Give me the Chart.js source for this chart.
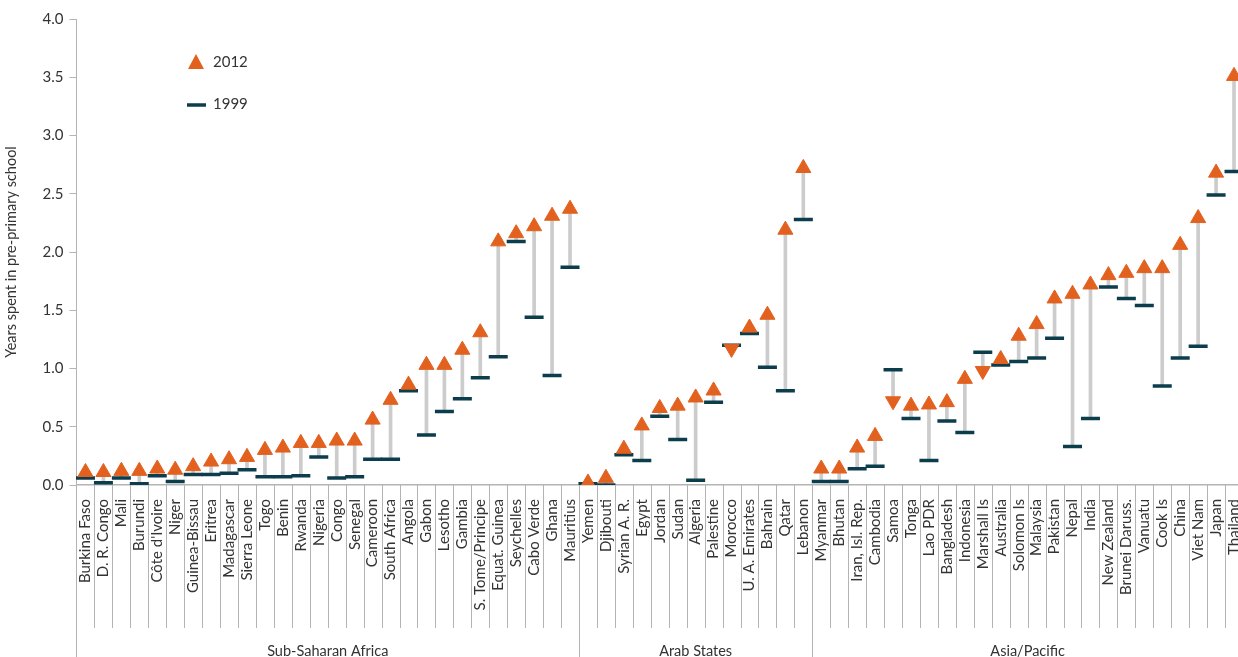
<!DOCTYPE html>
<html>
<head>
<meta charset="utf-8">
<script src="https://cdn.jsdelivr.net/npm/chart.js@4.4.1/dist/chart.umd.min.js"></script>
<style>
  html, body { margin: 0; padding: 0; background: #fff; overflow: hidden; }
  #wrap { position: relative; width: 1256px; height: 657px; }
</style>
</head>
<body>
<div id="wrap"><canvas id="chart" width="1256" height="657"></canvas></div>
<script>
/* =================================================
  Data
==================================================== */

const countries = [
  "Burkina Faso", "D. R. Congo", "Mali", "Burundi", "Côte d'Ivoire", "Niger", "Guinea-Bissau",
  "Eritrea", "Madagascar", "Sierra Leone", "Togo", "Benin", "Rwanda", "Nigeria", "Congo",
  "Senegal", "Cameroon", "South Africa", "Angola", "Gabon", "Lesotho", "Gambia",
  "S. Tome/Principe", "Equat. Guinea", "Seychelles", "Cabo Verde", "Ghana", "Mauritius",
  "Yemen", "Djibouti", "Syrian A. R.", "Egypt", "Jordan", "Sudan", "Algeria", "Palestine",
  "Morocco", "U. A. Emirates", "Bahrain", "Qatar", "Lebanon",
  "Myanmar", "Bhutan", "Iran, Isl. Rep.", "Cambodia", "Samoa", "Tonga", "Lao PDR",
  "Bangladesh", "Indonesia", "Marshall Is", "Australia", "Solomon Is", "Malaysia",
  "Pakistan", "Nepal", "India", "New Zealand", "Brunei Daruss.", "Vanuatu", "Cook Is",
  "China", "Viet Nam", "Japan", "Thailand"
];

const years1999 = [
  0.06, 0.02, 0.06, 0.01, 0.08, 0.03, 0.09, 0.09, 0.10, 0.13, 0.07, 0.07, 0.08, 0.24,
  0.06, 0.07, 0.22, 0.22, 0.81, 0.43, 0.63, 0.74, 0.92, 1.10, 2.09, 1.44, 0.94, 1.87,
  0.01, 0.00, 0.26, 0.21, 0.59, 0.39, 0.04, 0.71, 1.20, 1.30, 1.01, 0.81, 2.28,
  0.03, 0.03, 0.14, 0.16, 0.99, 0.57, 0.21, 0.55, 0.45, 1.14, 1.03, 1.06, 1.09,
  1.26, 0.33, 0.57, 1.70, 1.60, 1.54, 0.85, 1.09, 1.19, 2.49, 2.69
];

const years2012 = [
  0.11, 0.11, 0.12, 0.12, 0.14, 0.13, 0.16, 0.20, 0.22, 0.24, 0.30, 0.32, 0.36, 0.36,
  0.38, 0.38, 0.56, 0.73, 0.86, 1.03, 1.03, 1.16, 1.31, 2.09, 2.16, 2.22, 2.31, 2.37,
  0.02, 0.06, 0.31, 0.51, 0.66, 0.68, 0.75, 0.81, 1.17, 1.35, 1.46, 2.19, 2.72,
  0.14, 0.14, 0.32, 0.42, 0.72, 0.68, 0.69, 0.71, 0.91, 0.98, 1.08, 1.28, 1.38,
  1.60, 1.64, 1.72, 1.80, 1.82, 1.86, 1.86, 2.06, 2.29, 2.68, 3.51
];

const regionNames = ["Sub-Saharan Africa", "Arab States", "Asia/Pacific"];
const regionSizes = [28, 13, 24];

const yTicks = [0, 0.5, 1, 1.5, 2, 2.5, 3, 3.5, 4];

/* =================================================
  Styles
==================================================== */

const ORANGE = '#E2611F';
const TEAL = '#0B3D4D';
const LINK = '#CCCCCC';
const AXIS = '#B4B4B4';
const TEXT = '#333333';
const FONT = "Lato, 'DejaVu Sans Condensed', sans-serif";

/* =================================================
  Separators, region labels and legend
==================================================== */

const decorations = {
  id: 'decorations',
  afterDraw(chart) {
    const ctx = chart.ctx;
    const x = chart.scales.x;
    const area = chart.chartArea;
    const half = (x.getPixelForValue(1) - x.getPixelForValue(0)) / 2;

    let starts = [0];
    regionSizes.forEach((n, i) => starts.push(starts[i] + n));

    ctx.save();
    ctx.strokeStyle = AXIS;
    ctx.lineWidth = 1;
    for (let i = 0; i <= countries.length; i++) {
      const px = Math.round(x.getPixelForValue(i) - half) + 0.5;
      const bottom = starts.includes(i) ? chart.height : 628;
      ctx.beginPath();
      ctx.moveTo(px, area.bottom);
      ctx.lineTo(px, bottom);
      ctx.stroke();
    }

    ctx.fillStyle = TEXT;
    ctx.font = '14.5px ' + FONT;
    ctx.textAlign = 'center';
    ctx.textBaseline = 'middle';
    regionNames.forEach((name, i) => {
      const left = x.getPixelForValue(starts[i]) - half;
      const right = x.getPixelForValue(starts[i + 1] - 1) + half;
      ctx.fillText(name, (left + right) / 2, 651);
    });

    // legend
    ctx.fillStyle = ORANGE;
    ctx.beginPath();
    ctx.moveTo(196, 54);
    ctx.lineTo(204, 69);
    ctx.lineTo(188, 69);
    ctx.closePath();
    ctx.fill();

    ctx.strokeStyle = TEAL;
    ctx.lineWidth = 3.5;
    ctx.beginPath();
    ctx.moveTo(187, 105);
    ctx.lineTo(206, 105);
    ctx.stroke();

    ctx.fillStyle = TEXT;
    ctx.font = '15px ' + FONT;
    ctx.textAlign = 'left';
    ctx.fillText('2012', 213, 62);
    ctx.fillText('1999', 213, 104);
    ctx.restore();
  }
};

/* =================================================
  Chart
==================================================== */

const chart = document.getElementById('chart');

const chartData = {
  labels: countries,
  datasets: [{
    type: 'bar',
    label: 'change',
    data: countries.map((c, i) => [years1999[i], years2012[i]]),
    backgroundColor: LINK,
    barThickness: 3,
    order: 3
  }, {
    type: 'line',
    label: '1999',
    data: years1999,
    showLine: false,
    pointStyle: 'line',
    pointRadius: 9.5,
    pointBorderWidth: 3.5,
    pointBorderColor: TEAL,
    order: 2
  }, {
    type: 'line',
    label: '2012',
    data: years2012,
    showLine: false,
    pointStyle: 'triangle',
    pointRadius: 8.7,
    pointRotation: ctx => years2012[ctx.dataIndex] < years1999[ctx.dataIndex] ? 180 : 0,
    pointBackgroundColor: ORANGE,
    pointBorderColor: ORANGE,
    pointBorderWidth: 1,
    order: 1
  }]
};

const chartOptions = {
  responsive: false,
  animation: false,
  layout: {
    padding: { top: 19, right: 1, left: 0, bottom: 0 }
  },
  scales: {
    x: {
      offset: true,
      grid: { display: false, drawTicks: false },
      border: { color: AXIS, width: 1.5 },
      ticks: {
        autoSkip: false,
        minRotation: 90,
        maxRotation: 90,
        padding: 14,
        color: TEXT,
        font: { family: FONT, size: 15 }
      },
      afterFit: scale => {
        scale.height = 172;
        scale.paddingLeft = 0;
        scale.paddingRight = 0;
      }
    },
    y: {
      min: 0,
      max: 4,
      afterBuildTicks: scale => { scale.ticks = yTicks.map(v => ({ value: v })); },
      grid: { drawOnChartArea: false, tickLength: 7, color: AXIS },
      border: { color: AXIS },
      ticks: {
        color: TEXT,
        padding: 6,
        font: { family: FONT, size: 15 },
        callback: v => v.toFixed(1)
      },
      title: {
        display: true,
        text: 'Years spent in pre-primary school',
        color: TEXT,
        font: { family: FONT, size: 14.5 },
        padding: { top: 3, bottom: 2 }
      },
      afterFit: scale => { scale.width = 76.5; }
    }
  },
  plugins: {
    legend: { display: false },
    tooltip: { enabled: false }
  }
};

new Chart(chart, {
  type: 'bar',
  data: chartData,
  options: chartOptions,
  plugins: [decorations]
});
</script>
</body>
</html>
